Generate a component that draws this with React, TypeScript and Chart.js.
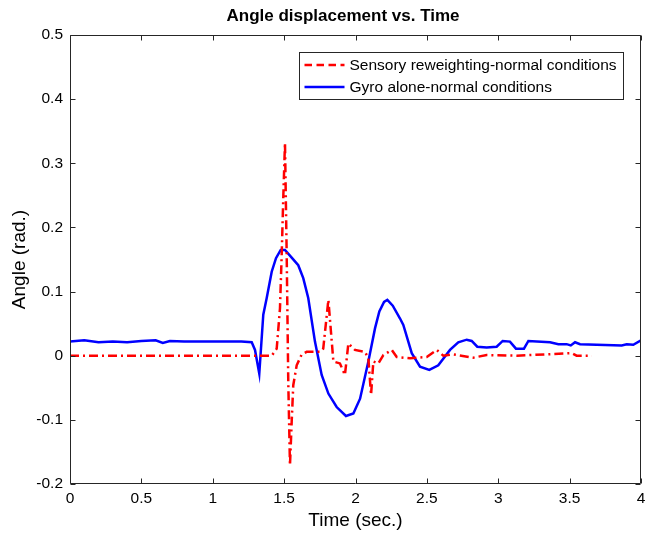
import React, { useEffect, useRef } from "react";
import { Chart, registerables } from "chart.js";

Chart.register(...registerables);

const chartTitle = "Angle displacement vs. Time";
const xTitle = "Time (sec.)";
const yTitle = "Angle (rad.)";

const redLabel = "Sensory reweighting-normal conditions";
const blueLabel = "Gyro alone-normal conditions";

const redX = [0, 1.0, 1.413, 1.448, 1.471, 1.483, 1.494, 1.506, 1.518, 1.529, 1.541, 1.553, 1.564, 1.588, 1.623, 1.658, 1.751, 1.774, 1.81, 1.845, 1.891, 1.926, 1.95, 1.996, 2.067, 2.09, 2.109, 2.125, 2.16, 2.195, 2.254, 2.289, 2.382, 2.499, 2.569, 2.615, 2.685, 2.825, 2.919, 3.129, 3.514, 3.549, 3.655];
const redY = [0, 0, 0, 0.011, 0.074, 0.158, 0.246, 0.332, 0.157, -0.04, -0.171, -0.103, -0.046, -0.015, 0.002, 0.006, 0.006, 0.011, 0.087, -0.009, -0.012, -0.03, 0.019, 0.009, 0.006, -0.004, -0.061, -0.009, -0.012, 0.001, 0.009, -0.002, -0.004, -0.002, 0.009, 0, 0.002, -0.003, 0.001, 0, 0.004, 0, 0];

const blueX = [0, 0.1, 0.2, 0.3, 0.4, 0.5, 0.6, 0.65, 0.7, 0.8, 0.9, 1.0, 1.1, 1.2, 1.273, 1.296, 1.326, 1.354, 1.378, 1.413, 1.443, 1.476, 1.506, 1.553, 1.599, 1.634, 1.669, 1.716, 1.763, 1.81, 1.868, 1.933, 1.985, 2.032, 2.09, 2.137, 2.167, 2.2, 2.223, 2.261, 2.312, 2.335, 2.394, 2.452, 2.517, 2.58, 2.662, 2.72, 2.779, 2.814, 2.853, 2.919, 2.989, 3.031, 3.082, 3.124, 3.18, 3.211, 3.363, 3.421, 3.479, 3.508, 3.538, 3.573, 3.865, 3.9, 3.946, 4.0];
const blueY = [0.022, 0.024, 0.021, 0.022, 0.021, 0.023, 0.024, 0.02, 0.023, 0.022, 0.022, 0.022, 0.022, 0.022, 0.021, 0.009, -0.028, 0.064, 0.09, 0.131, 0.152, 0.165, 0.165, 0.153, 0.141, 0.121, 0.09, 0.022, -0.03, -0.059, -0.08, -0.094, -0.09, -0.067, -0.009, 0.043, 0.069, 0.084, 0.087, 0.078, 0.058, 0.048, 0.004, -0.017, -0.022, -0.015, 0.009, 0.021, 0.025, 0.023, 0.014, 0.013, 0.014, 0.023, 0.022, 0.011, 0.011, 0.023, 0.021, 0.018, 0.018, 0.016, 0.021, 0.018, 0.016, 0.018, 0.017, 0.024];

const xMin = 0, xMax = 4, xStep = 0.5;
const yMin = -0.2, yMax = 0.5, yStep = 0.1;

const FONT = "'Liberation Sans', Arial, Helvetica, sans-serif";
const AXIS_COLOR = "#262626";
const TICK_SIZE = 15.5;
const LEGEND_SIZE = 15.5;
const AXIS_TITLE_SIZE = 19;

const fmt = (v: number) => {
  const r = Math.round(v * 10) / 10;
  return String(r === 0 ? 0 : r);
};

const titleShiftPlugin = {
  id: "titleShift",
  afterLayout(chart: any) {
    const tb = chart.titleBlock;
    if (tb) {
      tb.left = 45;
      tb.right = chart.chartArea.right;
    }
  },
};

const framePlugin = {
  id: "matlabFrame",
  afterDraw(chart: any) {
    const { ctx, chartArea: a, scales } = chart;
    const xs = scales.x, ys = scales.y;
    ctx.save();
    ctx.strokeStyle = AXIS_COLOR;
    ctx.lineWidth = 1;
    const L = Math.round(a.left) + 0.5, R = Math.round(a.right) - 0.5;
    const T = Math.round(a.top) + 0.5, B = Math.round(a.bottom) - 0.5;
    ctx.beginPath();
    ctx.rect(L, T, R - L, B - T);
    const tl = 5;
    xs.ticks.forEach((t: any) => {
      const p = Math.round(xs.getPixelForValue(t.value)) + 0.5;
      ctx.moveTo(p, B); ctx.lineTo(p, B - tl);
      ctx.moveTo(p, T); ctx.lineTo(p, T + tl);
    });
    ys.ticks.forEach((t: any) => {
      const p = Math.round(ys.getPixelForValue(t.value)) + 0.5;
      ctx.moveTo(L, p); ctx.lineTo(L + tl, p);
      ctx.moveTo(R, p); ctx.lineTo(R - tl, p);
    });
    ctx.stroke();

    // legend box
    const ds = chart.data.datasets;
    ctx.font = `${LEGEND_SIZE}px ${FONT}`;
    const maxW = Math.max(...ds.map((d: any) => ctx.measureText(d.label).width));
    const sampleW = 40, gap = 5, padL = 5, padR = 7;
    const boxW = Math.round(padL + sampleW + gap + maxW + padR);
    const boxH = 47;
    const bx = Math.round(a.right) - 18 - boxW + 0.5;
    const by = Math.round(a.top) + 17 + 0.5;
    ctx.fillStyle = "#ffffff";
    ctx.fillRect(bx, by, boxW, boxH);
    ctx.strokeStyle = AXIS_COLOR;
    ctx.setLineDash([]);
    ctx.strokeRect(bx, by, boxW, boxH);
    ds.forEach((d: any, i: number) => {
      const cy = by + 12.5 + i * 22;
      ctx.beginPath();
      ctx.strokeStyle = d.borderColor;
      ctx.lineWidth = d.borderWidth;
      ctx.setLineDash(d.legendDash || []);
      ctx.moveTo(bx + padL, cy);
      ctx.lineTo(bx + padL + sampleW, cy);
      ctx.stroke();
      ctx.setLineDash([]);
      ctx.fillStyle = "#000000";
      ctx.textBaseline = "middle";
      ctx.textAlign = "left";
      ctx.fillText(d.label, bx + padL + sampleW + gap, cy + 1);
    });
    ctx.restore();
  },
};

export default function App() {
  const ref = useRef<HTMLCanvasElement>(null);
  useEffect(() => {
    document.body.style.margin = "0";
    const canvas = ref.current!;
    const chart = new Chart(canvas, {
      type: "line",
      data: {
        datasets: [
          {
            label: redLabel,
            data: redX.map((x, i) => ({ x, y: redY[i] })),
            borderColor: "#ff0000",
            borderWidth: 2.5,
            borderDash: [9, 4, 2, 4],
            legendDash: [7.5, 4.5],
            pointRadius: 0,
            tension: 0,
            fill: false,
          } as any,
          {
            label: blueLabel,
            data: blueX.map((x, i) => ({ x, y: blueY[i] })),
            borderColor: "#0000ff",
            borderWidth: 2.5,
            pointRadius: 0,
            tension: 0,
            fill: false,
          } as any,
        ],
      },
      options: {
        responsive: false,
        devicePixelRatio: 1,
        animation: false,
        layout: { padding: { left: 0, right: 4, top: 0, bottom: 0 } },
        plugins: {
          legend: { display: false },
          tooltip: { enabled: false },
          title: {
            display: true,
            text: chartTitle,
            color: "#000000",
            font: { family: FONT, size: 17, weight: "bold" },
            padding: { top: 6.1, bottom: 8.5 },
          },
        },
        scales: {
          x: {
            type: "linear",
            min: xMin,
            max: xMax,
            grid: { display: false, drawTicks: false },
            border: { display: false },
            ticks: {
              stepSize: xStep,
              color: "#000000",
              font: { family: FONT, size: TICK_SIZE },
              padding: 5,
              maxRotation: 0,
              callback: (v: any) => fmt(Number(v)),
            },
            title: {
              display: true,
              text: xTitle,
              color: "#000000",
              font: { family: FONT, size: AXIS_TITLE_SIZE },
              padding: { top: 0, bottom: 3.6 },
            },
            afterFit: (s: any) => { s.height = 52; s.paddingLeft = 0; s.paddingRight = 0; },
          },
          y: {
            type: "linear",
            min: yMin,
            max: yMax,
            grid: { display: false, drawTicks: false },
            border: { display: false },
            ticks: {
              stepSize: yStep,
              color: "#000000",
              font: { family: FONT, size: TICK_SIZE },
              padding: 7,
              callback: (v: any) => fmt(Number(v)),
            },
            title: {
              display: true,
              text: yTitle,
              color: "#000000",
              font: { family: FONT, size: AXIS_TITLE_SIZE },
              padding: { top: 8, bottom: 0 },
            },
            afterFit: (s: any) => { s.width = 70; },
          },
        },
      },
      plugins: [titleShiftPlugin, framePlugin],
    });
    return () => chart.destroy();
  }, []);
  return (
    <div style={{ width: 645, height: 536 }}>
      <canvas ref={ref} width={645} height={536} style={{ display: "block" }} />
    </div>
  );
}
